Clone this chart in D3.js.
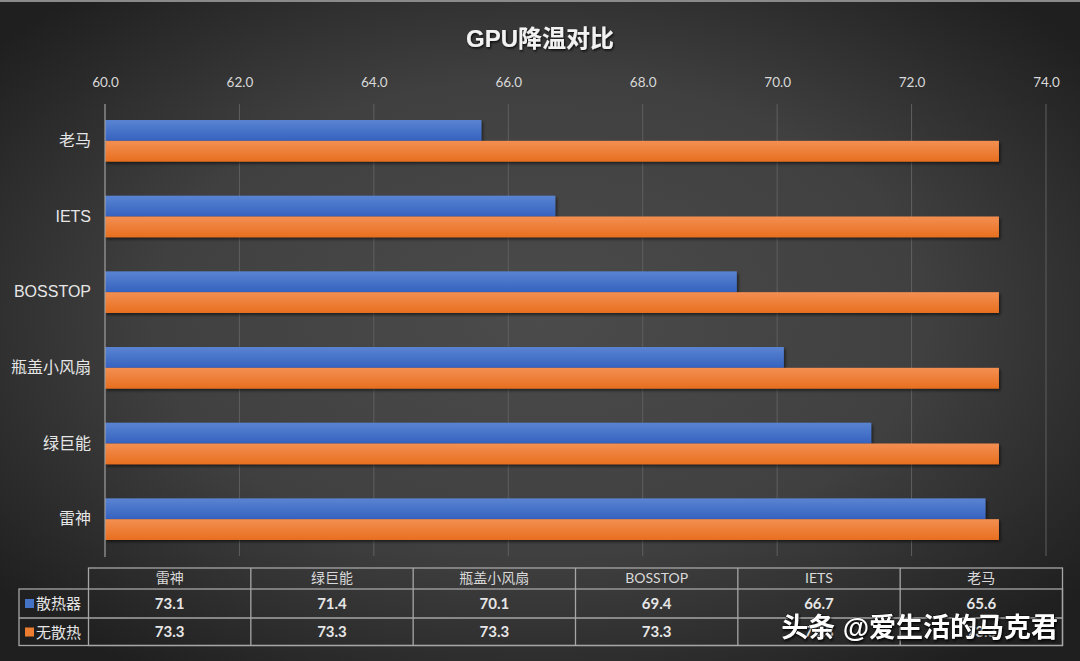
<!DOCTYPE html>
<html><head><meta charset="utf-8">
<script src="https://cdn.jsdelivr.net/npm/d3@7"></script>
<style>
html,body{margin:0;padding:0;background:#333;}
svg{display:block;}
</style></head>
<body>
<svg id="chart" width="1080" height="661" font-family="'Liberation Sans','Noto Sans CJK SC',sans-serif"></svg>
<script>
const categories = ["雷神","绿巨能","瓶盖小风扇","BOSSTOP","IETS","老马"];
const seriesNames = ["散热器","无散热"];
const withCooler = [73.1,71.4,70.1,69.4,66.7,65.6];
const noCooler = [73.3,73.3,73.3,73.3,73.3,73.3];
const tickValues = [60,62,64,66,68,70,72,74];
const title = "GPU降温对比";
const watermark = "头条 @爱生活的马克君";

const W=1080,H=661;
const svg=d3.select("#chart");
const defs=svg.append("defs");
const bg=defs.append("radialGradient").attr("id","bg").attr("cx","50%").attr("cy","48%").attr("r","65%");
bg.append("stop").attr("offset","0%").attr("stop-color","#4b4b4b");
bg.append("stop").attr("offset","55%").attr("stop-color","#404040");
bg.append("stop").attr("offset","100%").attr("stop-color","#1f1f1f");
const gb=defs.append("linearGradient").attr("id","gBlue").attr("x1",0).attr("y1",0).attr("x2",0).attr("y2",1);
gb.append("stop").attr("offset","0%").attr("stop-color","#5a84d2");
gb.append("stop").attr("offset","100%").attr("stop-color","#3562bf");
const go=defs.append("linearGradient").attr("id","gOrange").attr("x1",0).attr("y1",0).attr("x2",0).attr("y2",1);
go.append("stop").attr("offset","0%").attr("stop-color","#f38f52");
go.append("stop").attr("offset","100%").attr("stop-color","#e86f1f");
const sh=defs.append("filter").attr("id","shadow").attr("x","-5%").attr("y","-20%").attr("width","115%").attr("height","160%");
sh.append("feDropShadow").attr("dx",1.5).attr("dy",2).attr("stdDeviation",1.5).attr("flood-color","#000").attr("flood-opacity",0.55);
const ts=defs.append("filter").attr("id","tshadow");
ts.append("feDropShadow").attr("dx",1).attr("dy",1.5).attr("stdDeviation",1).attr("flood-color","#000").attr("flood-opacity",0.8);

svg.append("rect").attr("width",W).attr("height",H).attr("fill","url(#bg)");
svg.append("rect").attr("width",W).attr("height",2).attr("fill","#8a8a8a");

svg.append("text").attr("x",540).attr("y",47).attr("text-anchor","middle")
  .attr("fill","#f2f2f2").attr("font-size",24).attr("font-weight","bold")
  .attr("filter","url(#tshadow)").text(title);

const x=d3.scaleLinear().domain([60,74]).range([105,1046]);
const topCats=categories.slice().reverse();
const y=d3.scaleBand().domain(topCats).range([103,557]).paddingInner(0.45).paddingOuter(0.225);
const ySub=d3.scaleBand().domain(seriesNames).range([0,y.bandwidth()]);

// grid
svg.append("g").selectAll("line").data(tickValues.slice(1)).join("line")
  .attr("x1",d=>x(d)).attr("x2",d=>x(d)).attr("y1",104).attr("y2",556)
  .attr("stroke","#5f5f5f").attr("stroke-width",1);

const ax=svg.append("g").attr("transform","translate(0,104)")
  .call(d3.axisTop(x).tickValues(tickValues).tickFormat(d3.format(".1f")).tickSize(0).tickPadding(17));
ax.select(".domain").remove();
ax.selectAll("text").attr("fill","#d9d9d9").style("font-size","13.5px").style("font-family","Lato,'Noto Sans',sans-serif");

const rows=categories.map((c,i)=>({c,v:[withCooler[i],noCooler[i]]}));
const fills=["url(#gBlue)","url(#gOrange)"];
const g=svg.append("g");
rows.forEach(r=>{
  r.v.forEach((v,j)=>{
    g.append("rect").attr("x",x(60)).attr("y",y(r.c)+ySub(seriesNames[j]))
     .attr("width",x(v)-x(60)).attr("height",ySub.bandwidth())
     .attr("fill",fills[j]).attr("filter","url(#shadow)");
  });
});

// y axis line
svg.append("line").attr("x1",x(60)).attr("x2",x(60)).attr("y1",104).attr("y2",557)
  .attr("stroke","#a0a0a0").attr("stroke-width",1.2);

const ay=svg.append("g").attr("transform",`translate(${x(60)},0)`)
  .call(d3.axisLeft(y).tickSize(0).tickPadding(14));
ay.select(".domain").remove();
ay.selectAll("text").attr("fill","#e6e6e6").style("font-size","16px").style("font-family","'Liberation Sans','Noto Sans CJK SC',sans-serif");

// data table
const colX=d3.scaleBand().domain(categories).range([88.5,1062.5]);
const tg=svg.append("g");
const lineC="#a6a6a6";
tg.append("rect").attr("x",88.5).attr("y",568).attr("width",974).attr("height",645.5-568).attr("fill","none").attr("stroke",lineC).attr("stroke-width",1.3);
tg.append("rect").attr("x",19).attr("y",589).attr("width",1043.5).attr("height",645.5-589).attr("fill","none").attr("stroke",lineC).attr("stroke-width",1.3);
tg.append("line").attr("x1",19).attr("x2",1062.5).attr("y1",618).attr("y2",618).attr("stroke",lineC).attr("stroke-width",1.3);
categories.slice(1).forEach(c=>{
  tg.append("line").attr("x1",colX(c)).attr("x2",colX(c)).attr("y1",568).attr("y2",645.5).attr("stroke",lineC).attr("stroke-width",1.3);
});
const tf="Lato,'Noto Sans CJK SC',sans-serif";
categories.forEach((c,i)=>{
  const cx=colX(c)+colX.bandwidth()/2;
  tg.append("text").attr("x",cx).attr("y",583).attr("text-anchor","middle").attr("fill","#d9d9d9").style("font-size","14px").style("font-family",tf).text(c);
  tg.append("text").attr("x",cx).attr("y",609).attr("text-anchor","middle").attr("fill","#e6e6e6").style("font-size","15px").style("font-weight","bold").style("font-family",tf).text(withCooler[i].toFixed(1));
  tg.append("text").attr("x",cx).attr("y",637).attr("text-anchor","middle").attr("fill","#e6e6e6").style("font-size","15px").style("font-weight","bold").style("font-family",tf).text(noCooler[i].toFixed(1));
});
const legC=["#4472c4","#ed7d31"];
seriesNames.forEach((s,j)=>{
  const yy=j===0?603.5:632;
  tg.append("rect").attr("x",25).attr("y",yy-4.5).attr("width",9).attr("height",9).attr("fill",legC[j]);
  tg.append("text").attr("x",36).attr("y",yy+5.5).attr("fill","#e6e6e6").attr("font-size",15).text(s);
});

// watermark
svg.append("text").attr("x",1058).attr("y",637).attr("text-anchor","end")
  .attr("fill","#ffffff").attr("font-size",27).attr("font-weight","bold")
  .attr("filter","url(#tshadow)")
  .attr("stroke","#000").attr("stroke-width",0.6).attr("paint-order","stroke")
  .text(watermark);
</script>
</body></html>
